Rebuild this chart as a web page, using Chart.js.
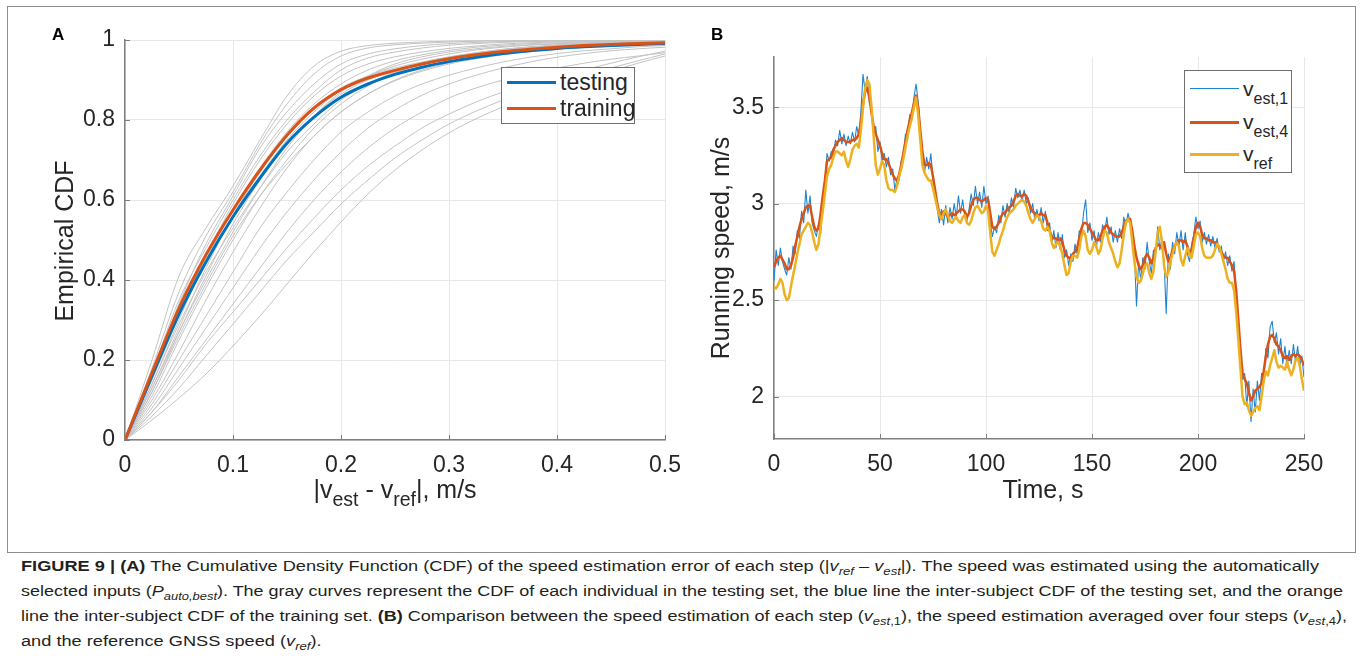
<!DOCTYPE html>
<html>
<head>
<meta charset="utf-8">
<script src="https://cdn.jsdelivr.net/npm/chart.js@4.4.1/dist/chart.umd.min.js"></script>
<style>
  html, body { margin: 0; padding: 0; background: #fff; }
  body { width: 1363px; height: 661px; position: relative; overflow: hidden;
         font-family: "Liberation Sans", Arial, Helvetica, sans-serif; color: #262626; }
  #frame { position: absolute; left: 7px; top: 6px; width: 1349px; height: 547px;
           border: 1.5px solid #8c8c8c; box-sizing: border-box; }
  canvas { position: absolute; top: 0; }
  #cdfChart { left: 0; }
  #speedChart { left: 700px; }
  .panel { position: absolute; font-weight: bold; font-size: 17px; color: #000; line-height: 1; }
  .title { position: absolute; white-space: nowrap; font-size: 25px; line-height: 1; color: #262626; }
  .title.rot { transform: translate(-50%, -50%) rotate(-90deg); }
  .title.hor { transform: translate(-50%, -50%); }
  .sb { font-size: 0.78em; position: relative; top: 0.42em; }
  .legend { position: absolute; background: #fff; border: 1px solid #6f6f6f; box-sizing: border-box; }
  .legend .ln { position: absolute; height: 3px; }
  .legend .tx { position: absolute; white-space: nowrap; line-height: 1; color: #262626; }
  .caption { position: absolute; left: 21px; white-space: nowrap; font-size: 15.5px; line-height: 20px;
             color: #231f20; transform-origin: 0 50%; }
  .caption i { font-style: italic; }
  .caption .cs { font-size: 0.72em; position: relative; top: 0.35em; }
</style>
</head>
<body>
<div id="frame"></div>
<canvas id="cdfChart" width="700" height="520"></canvas>
<canvas id="speedChart" width="663" height="520"></canvas>

<div class="panel" style="left:52px; top:26px;">A</div>
<div class="panel" style="left:711px; top:26px;">B</div>

<div class="title rot" style="left:64px; top:241px;">Empirical CDF</div>
<div class="title hor" style="left:395px; top:489px;">|v<span class="sb">est</span> - v<span class="sb">ref</span>|, m/s</div>
<div class="title rot" style="left:720px; top:248px;">Running speed, m/s</div>
<div class="title hor" style="left:1043px; top:489px;">Time, s</div>

<div id="legendA" class="legend" style="left:501px; top:67px; width:134px; height:57px;"></div>
<div id="legendB" class="legend" style="left:1184px; top:70px; width:108px; height:103px;"></div>

<div class="caption" data-w="1298" style="top:556px;"><span><b>FIGURE 9 | (A)</b> The Cumulative Density Function (CDF) of the speed estimation error of each step (|<i>v<span class="cs">ref</span></i> – <i>v<span class="cs">est</span></i>|). The speed was estimated using the automatically</span></div>
<div class="caption" data-w="1322" style="top:581px;"><span>selected inputs (<i>P<span class="cs">auto,best</span></i>). The gray curves represent the CDF of each individual in the testing set, the blue line the inter-subject CDF of the testing set, and the orange</span></div>
<div class="caption" data-w="1326" style="top:606px;"><span>line the inter-subject CDF of the training set. <b>(B)</b> Comparison between the speed estimation of each step (<i>v<span class="cs">est</span></i><span class="cs">,1</span>), the speed estimation averaged over four steps (<i>v<span class="cs">est</span></i><span class="cs">,4</span>),</span></div>
<div class="caption" style="top:631px;"><span>and the reference GNSS speed (<i>v<span class="cs">ref</span></i>).</span></div>

<script>
// ---------- Panel A: empirical CDFs of |v_est - v_ref| ----------
const errGrid = [0, 0.025, 0.05, 0.075, 0.1, 0.125, 0.15, 0.175, 0.2, 0.225, 0.25,
                 0.275, 0.3, 0.325, 0.35, 0.375, 0.4, 0.425, 0.45, 0.475, 0.5];

const testingCdf  = [0, .16, .315, .445, .558, .655, .742, .807, .857, .89, .914,
                     .932, .946, .957, .966, .973, .979, .983, .986, .989, .991];
const trainingCdf = [0, .168, .33, .463, .575, .675, .762, .83, .876, .905, .924,
                     .94, .953, .963, .971, .977, .982, .986, .989, .991, .993];

// one row per test subject
const subjectCdf = [
  [0,.20,.41,.53,.635,.75,.86,.935,.972,.986,.992,.995,.997,.998,.998,.999,.999,.999,1,1,1],
  [0,.18,.37,.51,.62,.74,.84,.915,.96,.98,.988,.992,.995,.997,.998,.998,.999,.999,.999,1,1],
  [0,.16,.34,.49,.61,.73,.82,.89,.94,.965,.978,.986,.991,.994,.996,.997,.998,.998,.999,.999,1],
  [0,.17,.35,.48,.60,.71,.80,.87,.925,.955,.97,.98,.987,.991,.994,.996,.997,.998,.998,.999,.999],
  [0,.15,.31,.46,.59,.70,.79,.86,.91,.94,.958,.97,.979,.985,.99,.993,.995,.996,.997,.998,.998],
  [0,.14,.30,.45,.575,.68,.77,.84,.89,.925,.948,.963,.974,.982,.987,.991,.993,.995,.996,.997,.998],
  [0,.16,.32,.45,.56,.66,.75,.82,.875,.91,.935,.952,.965,.975,.982,.987,.99,.992,.994,.995,.996],
  [0,.13,.28,.43,.56,.67,.76,.83,.88,.91,.93,.945,.958,.968,.976,.982,.987,.99,.992,.994,.995],
  [0,.12,.27,.41,.54,.65,.74,.81,.865,.90,.925,.943,.957,.968,.977,.983,.987,.99,.993,.995,.996],
  [0,.14,.29,.42,.53,.63,.72,.79,.85,.89,.92,.94,.955,.966,.975,.981,.986,.989,.991,.993,.994],
  [0,.11,.25,.38,.50,.61,.70,.78,.84,.885,.918,.94,.955,.967,.976,.982,.987,.99,.992,.994,.995],
  [0,.12,.26,.39,.51,.61,.69,.76,.82,.865,.90,.925,.943,.957,.968,.976,.982,.986,.989,.991,.993],
  [0,.10,.22,.35,.47,.58,.68,.76,.82,.865,.898,.922,.94,.953,.963,.971,.977,.982,.986,.989,.991],
  [0,.09,.20,.31,.42,.53,.62,.70,.77,.82,.86,.89,.912,.93,.945,.957,.966,.973,.978,.983,.986],
  [0,.08,.18,.28,.38,.48,.57,.65,.72,.78,.825,.862,.89,.912,.93,.945,.957,.966,.973,.978,.982],
  [0,.07,.16,.25,.34,.43,.52,.60,.67,.73,.78,.82,.855,.88,.90,.917,.93,.942,.952,.96,.968],
  [0,.07,.15,.24,.32,.40,.48,.555,.625,.685,.735,.78,.815,.845,.87,.89,.907,.925,.942,.958,.972],
  [0,.06,.13,.21,.29,.37,.45,.52,.59,.65,.705,.75,.79,.822,.85,.873,.893,.912,.93,.948,.965],
  [0,.05,.105,.165,.235,.31,.39,.47,.545,.615,.675,.725,.768,.803,.833,.858,.88,.902,.922,.942,.96],
  [0,.13,.27,.40,.52,.63,.73,.81,.87,.91,.94,.958,.97,.978,.984,.988,.991,.993,.995,.996,.997]
];

const cdfXTicks = [0, 0.1, 0.2, 0.3, 0.4, 0.5];
const cdfYTicks = [0, 0.2, 0.4, 0.6, 0.8, 1];

// ---------- Panel B: running speed over time ----------
// one sample per second, 0 .. 250 s
const timeS = Array.from({ length: 251 }, (_, i) => i);

const vEst1 = [
  2.60,2.76,2.68,2.77,2.70,2.66,2.63,2.72,2.66,2.78,
  2.74,2.86,2.82,2.96,2.90,3.07,2.95,3.04,2.90,2.86,
  2.83,2.90,2.84,3.02,3.10,3.26,3.22,3.27,3.25,3.33,
  3.30,3.38,3.31,3.36,3.30,3.35,3.31,3.37,3.32,3.40,
  3.35,3.48,3.67,3.58,3.66,3.52,3.50,3.38,3.40,3.27,
  3.32,3.22,3.26,3.19,3.24,3.15,3.18,3.07,3.13,3.12,
  3.22,3.25,3.36,3.33,3.46,3.44,3.55,3.62,3.53,3.38,
  3.24,3.16,3.24,3.18,3.26,3.12,3.08,2.97,2.90,2.97,
  2.89,2.99,2.90,2.98,2.92,3.00,2.93,3.04,2.95,3.02,
  2.93,2.91,2.97,3.05,2.99,3.09,3.00,3.06,2.98,3.09,
  3.00,3.04,2.90,2.83,2.88,2.85,2.94,2.90,2.99,2.93,
  3.00,2.95,3.03,2.98,3.08,3.03,3.07,3.01,3.07,3.00,
  3.03,2.95,3.00,2.92,2.97,2.91,2.98,2.90,2.96,2.86,
  2.90,2.79,2.86,2.77,2.85,2.76,2.84,2.72,2.76,2.68,
  2.74,2.70,2.79,2.74,2.86,2.83,2.95,3.02,2.85,2.90,
  2.81,2.86,2.77,2.85,2.80,2.89,2.85,2.93,2.84,2.88,
  2.80,2.86,2.80,2.87,2.82,2.93,2.89,2.95,2.90,2.84,
  2.74,2.47,2.70,2.60,2.72,2.66,2.80,2.70,2.64,2.76,
  2.74,2.88,2.76,2.82,2.70,2.43,2.74,2.66,2.80,2.74,
  2.85,2.78,2.86,2.76,2.85,2.74,2.70,2.79,2.84,2.93,
  2.87,2.91,2.80,2.85,2.79,2.84,2.78,2.83,2.77,2.82,
  2.75,2.78,2.70,2.75,2.68,2.73,2.65,2.70,2.55,2.38,
  2.22,2.09,2.12,1.95,2.08,1.87,2.04,1.92,2.08,1.98,
  2.12,2.08,2.25,2.20,2.36,2.39,2.28,2.33,2.22,2.30,
  2.17,2.26,2.15,2.24,2.17,2.27,2.18,2.26,2.16,2.21,
  2.10
];

const vEst4 = [
  2.67,2.70,2.72,2.73,2.71,2.69,2.66,2.66,2.68,2.72,
  2.78,2.83,2.88,2.92,2.95,2.98,2.99,2.99,2.93,2.88,
  2.86,2.87,2.95,3.04,3.12,3.22,3.23,3.24,3.28,3.30,
  3.32,3.33,3.34,3.33,3.32,3.32,3.32,3.33,3.33,3.34,
  3.36,3.42,3.52,3.58,3.60,3.55,3.47,3.40,3.36,3.33,
  3.30,3.26,3.23,3.23,3.21,3.18,3.15,3.13,3.12,3.15,
  3.20,3.26,3.32,3.38,3.43,3.47,3.52,3.56,3.50,3.38,
  3.27,3.20,3.20,3.21,3.20,3.14,3.07,3.00,2.95,2.94,
  2.96,2.95,2.93,2.94,2.95,2.94,2.95,2.96,2.97,2.97,
  2.96,2.93,2.95,2.99,3.02,3.03,3.03,3.02,3.01,3.02,
  3.03,3.02,2.95,2.88,2.87,2.88,2.90,2.93,2.95,2.95,
  2.97,2.98,2.99,3.01,3.04,3.05,3.04,3.04,3.05,3.04,
  3.01,2.98,2.96,2.95,2.94,2.94,2.95,2.94,2.94,2.90,
  2.86,2.83,2.82,2.82,2.81,2.82,2.80,2.76,2.73,2.72,
  2.72,2.74,2.75,2.77,2.82,2.87,2.90,2.90,2.89,2.87,
  2.85,2.83,2.81,2.81,2.83,2.86,2.88,2.89,2.87,2.85,
  2.84,2.83,2.83,2.83,2.85,2.88,2.91,2.92,2.92,2.86,
  2.78,2.72,2.68,2.66,2.68,2.72,2.74,2.72,2.69,2.72,
  2.77,2.79,2.78,2.77,2.80,2.74,2.70,2.72,2.76,2.78,
  2.80,2.81,2.81,2.80,2.81,2.78,2.74,2.76,2.82,2.88,
  2.90,2.88,2.84,2.82,2.82,2.81,2.81,2.80,2.80,2.79,
  2.77,2.75,2.73,2.72,2.72,2.70,2.68,2.65,2.55,2.40,
  2.25,2.12,2.09,2.07,2.02,1.98,2.00,2.03,2.04,2.05,
  2.07,2.13,2.21,2.27,2.31,2.32,2.30,2.27,2.26,2.24,
  2.21,2.20,2.21,2.19,2.21,2.22,2.21,2.22,2.21,2.19,
  2.16
];

const vRef = [
  2.57,2.56,2.58,2.61,2.59,2.53,2.50,2.51,2.57,2.63,
  2.68,2.74,2.79,2.84,2.86,2.88,2.90,2.89,2.85,2.80,
  2.76,2.79,2.88,2.96,3.05,3.14,3.18,3.20,3.24,3.27,
  3.27,3.26,3.25,3.27,3.22,3.19,3.23,3.28,3.30,3.31,
  3.29,3.38,3.50,3.60,3.64,3.62,3.50,3.35,3.20,3.15,
  3.18,3.22,3.20,3.12,3.08,3.07,3.07,3.06,3.09,3.14,
  3.18,3.23,3.29,3.35,3.40,3.44,3.50,3.55,3.46,3.33,
  3.20,3.16,3.14,3.12,3.12,3.08,3.03,2.98,2.94,2.92,
  2.95,2.97,2.94,2.91,2.90,2.92,2.93,2.91,2.90,2.93,
  2.94,2.90,2.89,2.91,2.95,2.98,2.99,2.97,2.95,2.96,
  2.99,2.96,2.85,2.75,2.73,2.76,2.79,2.83,2.86,2.90,
  2.93,2.95,2.96,2.97,2.99,3.00,3.01,3.02,3.01,2.99,
  2.95,2.92,2.90,2.92,2.94,2.93,2.91,2.87,2.86,2.88,
  2.86,2.80,2.77,2.79,2.80,2.78,2.74,2.68,2.63,2.64,
  2.70,2.73,2.73,2.72,2.76,2.83,2.86,2.83,2.76,2.74,
  2.76,2.80,2.78,2.74,2.76,2.82,2.86,2.85,2.80,2.77,
  2.74,2.70,2.67,2.69,2.76,2.84,2.90,2.92,2.90,2.80,
  2.70,2.62,2.59,2.60,2.64,2.68,2.69,2.64,2.61,2.65,
  2.75,2.85,2.88,2.80,2.68,2.62,2.64,2.70,2.74,2.78,
  2.80,2.78,2.71,2.68,2.73,2.77,2.74,2.72,2.78,2.84,
  2.85,2.83,2.77,2.73,2.72,2.72,2.72,2.73,2.76,2.79,
  2.78,2.74,2.70,2.66,2.61,2.59,2.59,2.55,2.44,2.30,
  2.15,2.00,1.96,1.97,1.93,1.90,1.92,1.94,1.95,1.93,
  2.00,2.08,2.13,2.11,2.16,2.20,2.24,2.18,2.15,2.16,
  2.15,2.14,2.18,2.14,2.11,2.14,2.19,2.20,2.16,2.09,
  2.03
];

const speedXTicks = [0, 50, 100, 150, 200, 250];
const speedYTicks = [2, 2.5, 3, 3.5];

// ---------- styling ----------
const COL = {
  testing: '#0072BD', training: '#D95319', subject: '#c3c3c3',
  est1: '#1f84cf', est4: '#D95319', ref: '#EDB120',
  axis: '#7f7f7f', grid: '#e8e8e8', text: '#262626'
};
const FONT = '"Liberation Sans", Arial, Helvetica, sans-serif';
Chart.defaults.font.family = FONT;
Chart.defaults.color = COL.text;

const fmt = v => String(+Number(v).toFixed(3));

// MATLAB-style short tick marks pointing into the plot box
const inwardTicks = {
  id: 'inwardTicks',
  afterDraw(chart) {
    const { ctx, chartArea: a, scales: { x, y } } = chart;
    ctx.save();
    ctx.strokeStyle = COL.axis;
    ctx.lineWidth = 1;
    ctx.beginPath();
    x.ticks.forEach(t => {
      const px = Math.round(x.getPixelForValue(t.value)) + 0.5;
      ctx.moveTo(px, a.bottom); ctx.lineTo(px, a.bottom - 5);
    });
    y.ticks.forEach(t => {
      const py = Math.round(y.getPixelForValue(t.value)) + 0.5;
      ctx.moveTo(a.left, py); ctx.lineTo(a.left + 5, py);
    });
    ctx.stroke();
    ctx.restore();
  }
};

function axisOpts(ticks, min, max, fit, pad) {
  return {
    type: 'linear', min, max,
    afterBuildTicks: s => { s.ticks = ticks.map(v => ({ value: v })); },
    afterFit: fit,
    ticks: { callback: fmt, font: { size: 23 }, color: COL.text, padding: pad, maxRotation: 0, autoSkip: false },
    grid: { color: COL.grid, lineWidth: 1, drawTicks: false },
    border: { color: COL.axis, width: 1.5 }
  };
}

const pairs = (xs, ys) => xs.map((x, i) => ({ x, y: ys[i] }));

// ---------- Chart A ----------
const cdfDatasets = [
  { label: 'training', data: pairs(errGrid, trainingCdf), borderColor: COL.training, borderWidth: 3, order: 0 },
  { label: 'testing',  data: pairs(errGrid, testingCdf),  borderColor: COL.testing,  borderWidth: 3, order: 1 }
].concat(subjectCdf.map((row, k) => ({
  label: 'subject ' + (k + 1), data: pairs(errGrid, row), borderColor: COL.subject, borderWidth: 1, order: 2
})));

const chartA = new Chart(document.getElementById('cdfChart'), {
  type: 'line',
  data: { datasets: cdfDatasets },
  options: {
    responsive: false, animation: false, events: [],
    layout: { padding: { top: 40, right: 35, left: 0, bottom: 0 } },
    elements: { point: { radius: 0 }, line: { cubicInterpolationMode: 'monotone', borderCapStyle: 'round' } },
    plugins: { legend: { display: false }, tooltip: { enabled: false } },
    scales: {
      x: axisOpts(cdfXTicks, 0, 0.5, s => { s.height = 80; }, 12),
      y: axisOpts(cdfYTicks, 0, 1, s => { s.width = 125; }, 10)
    }
  },
  plugins: [inwardTicks]
});

// ---------- Chart B ----------
const chartB = new Chart(document.getElementById('speedChart'), {
  type: 'line',
  data: {
    datasets: [
      { label: 'v_ref',   data: pairs(timeS, vRef),  borderColor: COL.ref,  borderWidth: 2.5, order: 0 },
      { label: 'v_est,4', data: pairs(timeS, vEst4), borderColor: COL.est4, borderWidth: 2.5, order: 1 },
      { label: 'v_est,1', data: pairs(timeS, vEst1), borderColor: COL.est1, borderWidth: 1.1, order: 2 }
    ]
  },
  options: {
    responsive: false, animation: false, events: [],
    layout: { padding: { top: 57, right: 59, left: 0, bottom: 0 } },
    elements: { point: { radius: 0 }, line: { tension: 0, borderJoinStyle: 'round' } },
    plugins: { legend: { display: false }, tooltip: { enabled: false } },
    scales: {
      x: axisOpts(speedXTicks, 0, 250, s => { s.height = 81; }, 12),
      y: axisOpts(speedYTicks, 1.78, 3.76, s => { s.width = 74; }, 10)
    }
  },
  plugins: [inwardTicks]
});

// ---------- legends (colours taken from the chart datasets) ----------
function buildLegend(el, chart, entries, rows, textLeft, html) {
  entries.forEach((lbl, i) => {
    const ds = chart.data.datasets.find(d => d.label === lbl);
    const ln = document.createElement('div');
    ln.className = 'ln';
    ln.style.cssText = `left:5px; width:49px; top:${rows[i] - 1.5}px; background:${ds.borderColor}; height:${ds.borderWidth > 2 ? 3 : 1.5}px;`;
    el.appendChild(ln);
    const tx = document.createElement('div');
    tx.className = 'tx';
    tx.innerHTML = html[i];
    el.appendChild(tx);
    tx.style.left = textLeft + 'px';
    tx.style.top = rows[i] + 'px';
    tx.style.transform = 'translateY(-50%)';
  });
}
buildLegend(document.getElementById('legendA'), chartA, ['testing', 'training'], [14, 40], 58,
  ['<span style="font-size:23px">testing</span>', '<span style="font-size:23px">training</span>']);
buildLegend(document.getElementById('legendB'), chartB, ['v_est,1', 'v_est,4', 'v_ref'], [18, 51, 83], 58,
  ['<span style="font-size:21px">v<span style="font-size:16px;position:relative;top:8px">est,1</span></span>',
   '<span style="font-size:21px">v<span style="font-size:16px;position:relative;top:8px">est,4</span></span>',
   '<span style="font-size:21px">v<span style="font-size:16px;position:relative;top:8px">ref</span></span>']);
document.querySelectorAll('#legendB .tx').forEach(t => { t.style.transform = 'translateY(-11px)'; });

// ---------- caption: condense each line to its column width ----------
const capLines = document.querySelectorAll('.caption');
const firstW = capLines[0].firstElementChild.getBoundingClientRect().width;
const baseScale = +capLines[0].dataset.w / firstW;
capLines.forEach(c => {
  const w = c.firstElementChild.getBoundingClientRect().width;
  const s = c.dataset.w ? +c.dataset.w / w : baseScale;
  c.style.transform = `scaleX(${s})`;
});
</script>
</body>
</html>
